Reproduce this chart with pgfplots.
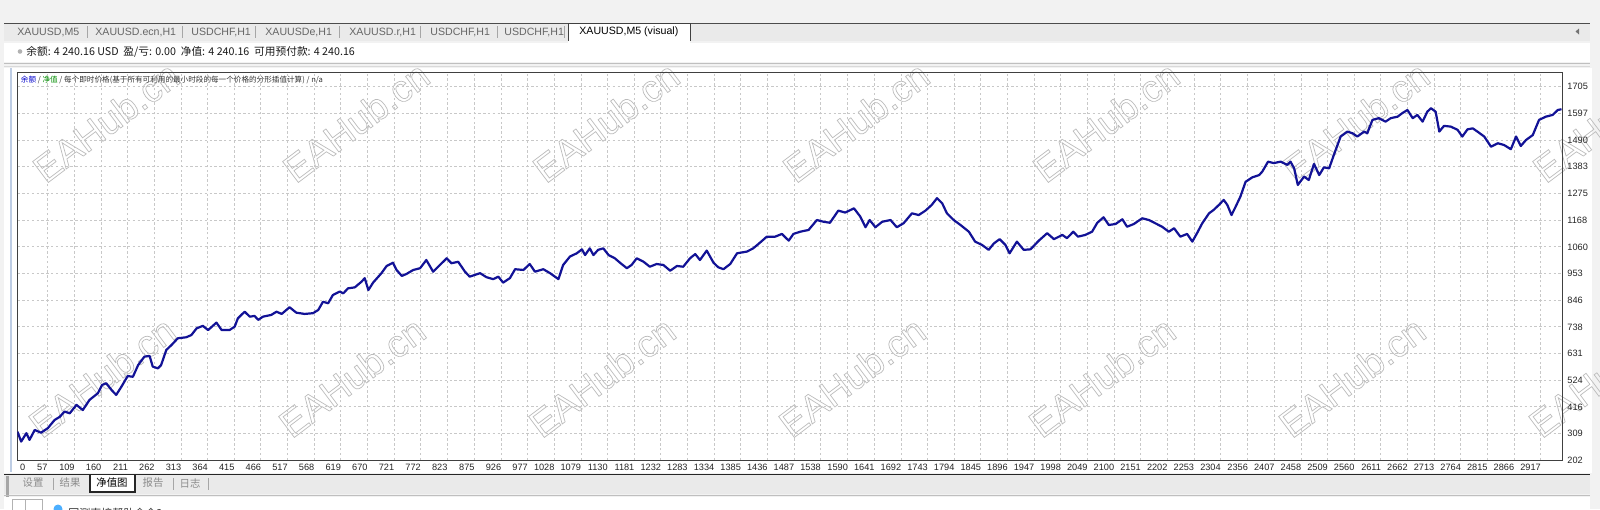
\documentclass[border=0pt]{standalone}
\usepackage{fontspec}
\setmainfont{Liberation Sans}
\newfontfamily\cjk{Noto Sans CJK SC}
\usepackage{pgfplots}
\usepackage{pgfplotstable}
\pgfplotsset{compat=1.18}
\definecolor{curve}{RGB}{18,18,150}
\definecolor{gridc}{RGB}{200,200,200}
\definecolor{uibg}{RGB}{242,242,242}
\definecolor{tabbg}{RGB}{234,234,234}
\definecolor{wm}{RGB}{188,188,188}
\definecolor{lblue}{RGB}{190,205,228}
\newcommand\outl[1]{\special{pdf:literal direct 1 Tr 0.35 w}#1\special{pdf:literal direct 0 Tr}}

\pgfplotstableread{
x y
0 316
7 276
17 310
23 283
33 323
45 312
58 330
71 363
81 376
90 397
100 390
113 424
125 403
138 444
154 471
162 504
170 511
180 484
189 464
199 497
211 540
221 537
231 584
243 618
253 621
259 578
269 571
275 584
285 645
295 665
307 692
323 696
333 705
343 732
355 742
365 725
381 755
391 725
406 725
416 739
422 772
435 799
445 779
454 782
461 766
470 779
486 786
496 799
506 790
521 817
534 795
550 790
566 793
576 806
585 839
595 833
604 866
617 880
624 873
633 893
646 897
659 920
665 934
672 886
681 916
697 954
707 983
719 996
726 967
736 943
745 951
758 967
771 974
783 1007
796 960
809 987
822 1014
831 994
844 1000
857 960
866 940
886 954
898 938
911 930
921 940
930 916
943 934
953 970
969 967
981 991
991 960
1007 970
1020 954
1036 930
1045 987
1058 1021
1071 1034
1081 1050
1087 1027
1096 1054
1103 1027
1112 1048
1122 1054
1132 1027
1144 1014
1154 996
1167 974
1176 987
1186 1014
1199 1000
1211 980
1224 991
1237 987
1250 964
1263 983
1275 980
1288 1014
1298 1031
1307 1007
1320 1045
1333 996
1342 978
1352 970
1365 991
1378 1034
1397 1041
1409 1054
1422 1077
1435 1101
1451 1101
1464 1112
1477 1085
1486 1112
1499 1121
1515 1128
1531 1168
1544 1161
1556 1157
1572 1206
1585 1198
1602 1215
1614 1182
1624 1139
1632 1168
1643 1139
1656 1161
1672 1168
1684 1139
1697 1155
1713 1195
1726 1188
1739 1206
1751 1229
1761 1256
1771 1235
1780 1195
1793 1168
1806 1148
1822 1121
1834 1081
1847 1068
1860 1048
1870 1074
1881 1091
1892 1068
1900 1034
1914 1081
1927 1048
1940 1050
1956 1085
1972 1115
1985 1091
2001 1108
2010 1095
2022 1121
2031 1101
2045 1108
2058 1121
2068 1157
2080 1179
2090 1148
2103 1152
2116 1171
2125 1141
2138 1152
2154 1175
2167 1168
2179 1155
2192 1141
2205 1121
2215 1135
2227 1101
2240 1112
2250 1081
2259 1115
2269 1155
2282 1195
2291 1209
2301 1229
2310 1249
2317 1229
2325 1188
2333 1222
2342 1262
2352 1322
2365 1340
2378 1349
2384 1363
2395 1403
2406 1397
2419 1403
2432 1390
2438 1403
2445 1376
2452 1309
2464 1343
2473 1329
2483 1394
2493 1349
2502 1380
2512 1376
2521 1430
2534 1504
2547 1524
2557 1517
2566 1504
2579 1524
2585 1517
2595 1571
2607 1578
2620 1564
2630 1578
2643 1584
2652 1598
2662 1611
2672 1578
2681 1591
2691 1564
2700 1604
2707 1618
2716 1604
2723 1524
2732 1547
2745 1544
2758 1531
2767 1504
2777 1533
2787 1537
2796 1524
2809 1504
2822 1463
2835 1477
2847 1470
2860 1453
2870 1504
2879 1466
2889 1490
2902 1510
2914 1571
2927 1584
2940 1591
2950 1611
2957 1614
}\equity

\begin{document}
\begin{tikzpicture}
\begin{scope}[x=0.5pt,y=-0.5pt]
% window background
\fill[uibg] (0,0) rectangle (1600,509);
% top tab bar
\fill[tabbg] (4,23) rectangle (1590,41);
\draw[black!70,line width=0.6pt] (4,23.5) -- (1590,23.5);
\fill[white] (568,23.5) rectangle (690,43);
\draw[black!75,line width=0.5pt] (568,41) -- (568,23.5) -- (690,23.5) -- (690,41);
\foreach \s in {87,182,255,339,420,497,564} {\draw[black!35,line width=0.4pt] (\s,26) -- (\s,38);}
\begin{scope}[every node/.style={anchor=west,inner sep=0pt,font=\fontsize{5.3}{6}\selectfont,text=black!60}]
\node at (17,32) {XAUUSD,M5};
\node at (95,32) {XAUUSD.ecn,H1};
\node at (191,32) {USDCHF,H1};
\node at (265,32) {XAUUSDe,H1};
\node at (349,32) {XAUUSD.r,H1};
\node at (430,32) {USDCHF,H1};
\node at (504,32) {USDCHF,H1};
\node[text=black] at (579,32) {XAUUSD,M5 (visual)};
\end{scope}
\fill[black!55] (1579,28.5) -- (1579,34.5) -- (1575.5,31.5) -- cycle;
% status bar
\fill[white] (4,43) rectangle (1590,62);
\fill[black!30] (20,51.5) circle (2.3);
\node[anchor=west,inner sep=0pt,font=\fontsize{5.35}{6}\selectfont\cjk,text=black!90] at (26,51.5) {余额: 4 240.16 USD\ \ 盈/亏: 0.00\ \ 净值: 4 240.16\ \ 可用预付款: 4 240.16};
\draw[black!25,line width=0.5pt] (4,63.5) -- (1590,63.5);
\draw[black!15,line width=0.5pt] (4,66.5) -- (1590,66.5);
% chart area
\fill[white] (4,68) rectangle (1592,473);
\draw[lblue,line width=1pt] (11,68) -- (11,472);
% bottom tabs
\fill[tabbg] (4,475) rectangle (1590,494);
\draw[black!85,line width=0.6pt] (4,474.5) -- (1590,474.5);
\fill[white] (90,474.5) rectangle (135,492);
\draw[black!85,line width=0.6pt] (90,474.5) -- (90,492) -- (135,492) -- (135,474.5);
\foreach \s in {53,173,208} {\draw[black!35,line width=0.4pt] (\s,478) -- (\s,490);}
\begin{scope}[every node/.style={inner sep=0pt,font=\fontsize{5.2}{6}\selectfont\cjk,text=black!45}]
\node at (33,483) {设置};
\node at (70,483) {结果};
\node[text=black] at (112,483) {净值图};
\node at (153,483) {报告};
\node at (190,483) {日志};
\end{scope}
\fill[black!35] (6,476) rectangle (9,500);
\draw[black!25,line width=0.5pt] (4,495.5) -- (1590,495.5);
\fill[white] (4,497) rectangle (1590,509);
\draw[black!30,line width=0.4pt] (12,512) -- (12,499) -- (42,499) -- (42,512);
\draw[black!30,line width=0.4pt] (25,499) -- (25,512);
\begin{scope}
\clip (0,0) rectangle (1600,509);
\fill[blue!45!cyan!70!white] (58,509) circle (4.5);
\node[anchor=west,inner sep=0pt,font=\fontsize{5.5}{6}\selectfont\cjk,text=black!80] at (68,513) {回测直接帮助命令2};
% watermarks
\begin{scope}[every node/.style={rotate=37,inner sep=0pt,font=\fontsize{19}{19}\selectfont,text=wm}]
\foreach \wx in {106,356,606,856,1106,1356,1606} {
  \node at (\wx,122) {\outl{EAHub.cn}};
  \node at (\wx-4,377) {\outl{EAHub.cn}};
}
\end{scope}
\end{scope}
\end{scope}

\begin{axis}[
  at={(8.75pt,-230pt)}, anchor=south west,
  scale only axis, width=772.25pt, height=193.65pt,
  xmin=0, xmax=2958, ymin=202, ymax=1761,
  axis line style={black!75, line width=0.5pt},
  grid=major,
  major grid style={gridc, dash pattern=on 1.2pt off 1.2pt, line width=0.4pt},
  xtick={57,109,160,211,262,313,364,415,466,517,568,619,670,721,772,823,875,926,977,1028,1079,1130,1181,1232,1283,1334,1385,1436,1487,1538,1590,1641,1692,1743,1794,1845,1896,1947,1998,2049,2100,2151,2202,2253,2304,2356,2407,2458,2509,2560,2611,2662,2713,2764,2815,2866,2917},
  xticklabels={57,109,160,211,262,313,364,415,466,517,568,619,670,721,772,823,875,926,977,1028,1079,1130,1181,1232,1283,1334,1385,1436,1487,1538,1590,1641,1692,1743,1794,1845,1896,1947,1998,2049,2100,2151,2202,2253,2304,2356,2407,2458,2509,2560,2611,2662,2713,2764,2815,2866,2917},
  extra x ticks={0}, extra x tick labels={0},
  extra x tick style={grid=none, xticklabel style={anchor=north west, xshift=0.8pt}},
  ytick={202,309,416,524,631,738,846,953,1060,1168,1275,1383,1490,1597,1705},
  yticklabels={202,309,416,524,631,738,846,953,1060,1168,1275,1383,1490,1597,1705},
  yticklabel pos=right,
  major tick length=0pt,
  tick label style={font=\fontsize{4.6}{5}\selectfont, text=black!85},
  /pgf/number format/assume math mode=true,
  xticklabel style={anchor=north east, inner sep=0pt, yshift=-2pt, xshift=0.3pt},
  yticklabel style={anchor=west, inner sep=0pt, xshift=2.5pt},
  clip=true,
]
\addplot[curve, line width=1.1pt, line join=round] table[x=x,y=y] {\equity};
\node[anchor=west, inner sep=0pt, font=\fontsize{3.8}{4}\selectfont\cjk, text=black!80] at (rel axis cs:0.002,0.982) {{\color{blue!80!black}余额} / {\color{green!55!black}净值} / 每个即时价格(基于所有可利用的最小时段的每一个价格的分形插值计算) / n/a};
\end{axis}
\pgfresetboundingbox
\path[use as bounding box] (0,0) rectangle (800pt,-254.5pt);
\end{tikzpicture}
\end{document}
